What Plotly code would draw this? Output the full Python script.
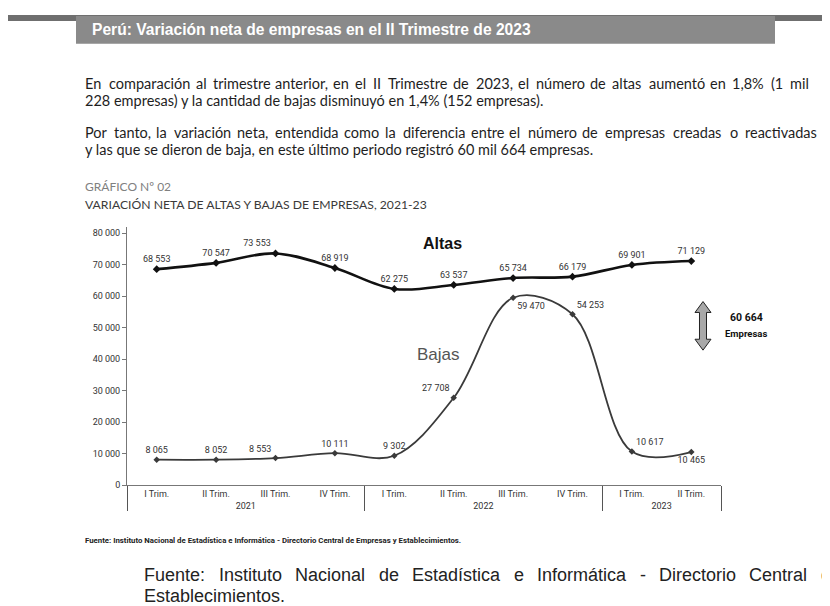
import plotly.graph_objects as go

# ---------------- data ----------------
years = ["2021", "2021", "2021", "2021", "2022", "2022", "2022", "2022", "2023", "2023"]
quarters = ["I Trim.", "II Trim.", "III Trim.", "IV Trim.",
            "I Trim.", "II Trim.", "III Trim.", "IV Trim.",
            "I Trim.", "II Trim."]
altas = [68553, 70547, 73553, 68919, 62275, 63537, 65734, 66179, 69901, 71129]
bajas = [8065, 8052, 8553, 10111, 9302, 27708, 59470, 54253, 10617, 10465]
y_ticks = [0, 10000, 20000, 30000, 40000, 50000, 60000, 70000, 80000]

W, H = 830, 606


def px(x):
    return x / W


def py(y):
    return 1 - y / H


altas_pos = ["top center", "top center", "top left", "top center", "top center",
             "top center", "top center", "top center", "top center", "top center"]
bajas_pos = ["top center", "top center", "top left", "top center", "top center",
             "top left", "bottom right", "top right", "top right", "bottom center"]

NARROW = "Roboto, Liberation Sans, sans-serif"

fig = go.Figure()
fig.add_trace(go.Scatter(
    x=[years, quarters], y=altas, mode="lines+markers+text",
    line=dict(color="#111111", width=2.6, shape="spline", smoothing=1),
    marker=dict(symbol="diamond", size=6, color="#111111"),
    texttemplate="%{y:,d}", textposition=altas_pos,
    textfont=dict(family=NARROW, size=9, color="#333333"),
    cliponaxis=False, showlegend=False, name="Altas"))
fig.add_trace(go.Scatter(
    x=[years, quarters], y=bajas, mode="lines+markers+text",
    line=dict(color="#3a3a3a", width=1.8, shape="spline", smoothing=1),
    marker=dict(symbol="diamond", size=5, color="#3a3a3a"),
    texttemplate="%{y:,d}", textposition=bajas_pos,
    textfont=dict(family=NARROW, size=9, color="#333333"),
    cliponaxis=False, showlegend=False, name="Bajas"))

body_font = "Lato, Liberation Sans, sans-serif"
ann = []


def text(x, y, t, size, color="#1e1e1e", family=body_font, xanchor="left", bold=False):
    if bold:
        t = "<b>" + t + "</b>"
    ann.append(dict(x=px(x), y=py(y), xref="paper", yref="paper", text=t, showarrow=False,
                    xanchor=xanchor, yanchor="middle",
                    font=dict(family=family, size=size, color=color)))


# approximate Arial advance widths (1/1000 em), used to justify lines
ARIAL = {c: 556 for c in "abdeghnopqu0123456789áéóú"}
ARIAL.update({c: 500 for c in "cksvxyzJ"})
ARIAL.update({"f": 278, "t": 278, "i": 222, "j": 222, "l": 222, "r": 333, "m": 833, "w": 722,
              "í": 278, " ": 278, ",": 278, ".": 278, ":": 278, "-": 333, "%": 889,
              "(": 333, ")": 333, "I": 278, "E": 667, "P": 667, "T": 611, "F": 611,
              "N": 722, "D": 722, "C": 722})


def justify(line, x0, x1, y, size, color, family, k):
    words = line.split(" ")
    widths = [sum(ARIAL.get(c, 556) for c in w) * size / 1000 * k for w in words]
    gap = (x1 - x0 - sum(widths)) / (len(words) - 1)
    x = x0
    for w, wd in zip(words, widths):
        text(x, y, w, size, color, family)
        x += wd + gap


BX = 75
BS = 14.5
text(82, 22, "Perú: Variación neta de empresas en el II Trimestre de 2023", 15.6, "#ffffff",
     "Liberation Sans, Arial, sans-serif", bold=True)
justify("En comparación al trimestre anterior, en el II Trimestre de 2023, el número de altas aumentó en 1,8% (1 mil",
        BX, 798, 76, BS, "#1e1e1e", body_font, 0.96)
text(BX, 93, "228 empresas) y la cantidad de bajas disminuyó en 1,4% (152 empresas).", BS)
justify("Por tanto, la variación neta, entendida como la diferencia entre el número de empresas creadas o reactivadas",
        BX, 806, 126, BS, "#1e1e1e", body_font, 0.96)
text(BX, 143, "y las que se dieron de baja, en este último periodo registró 60 mil 664 empresas.", BS)
text(BX, 180, "GRÁFICO Nº 02", 12, "#808080")
text(BX, 198, "VARIACIÓN NETA DE ALTAS Y BAJAS DE EMPRESAS, 2021-23", 12.2, "#3a3a3a")
text(434, 237, "Altas", 16, "#111111", "Liberation Sans, sans-serif", "center", bold=True)
text(430, 349, "Bajas", 17, "#555555", "Liberation Sans, sans-serif", "center")
text(738, 312, "60 664", 10.5, "#111111", NARROW, "center", bold=True)
text(738, 328, "Empresas", 9.5, "#111111", NARROW, "center", bold=True)
text(BX, 537, "Fuente: Instituto Nacional de Estadística e Informática - Directorio Central de Empresas y Establecimientos.",
     7.8, "#222222", NARROW, bold=True)
justify("Fuente: Instituto Nacional de Estadística e Informática - Directorio Central de",
        134, 831, 572, 18, "#222222", "Liberation Sans, Arial, sans-serif", 1.0)
text(134, 593, "Establecimientos.", 18, "#222222", "Liberation Sans, Arial, sans-serif")

# double arrow
cx = 695
pts = [(cx, 296), (cx + 8, 307), (cx + 3.5, 307), (cx + 3.5, 334), (cx + 8, 334), (cx, 345),
       (cx - 8, 334), (cx - 3.5, 334), (cx - 3.5, 307), (cx - 8, 307)]
path = "M " + " L ".join(f"{px(a):.5f},{py(b):.5f}" for a, b in pts) + " Z"

shapes = [
    dict(type="rect", xref="paper", yref="paper", x0=0, x1=1, y0=py(13), y1=py(7),
         fillcolor="#6f6f6f", line=dict(width=0), layer="below"),
    dict(type="rect", xref="paper", yref="paper", x0=px(68), x1=px(767), y0=py(36), y1=py(8),
         fillcolor="#8a8a8a", line=dict(width=0), layer="below"),
    dict(type="path", xref="paper", yref="paper", path=path, fillcolor="#a8a8a8",
         line=dict(color="#222222", width=1)),
]

fig.update_layout(
    width=W, height=H, margin=dict(l=0, r=0, t=0, b=0),
    paper_bgcolor="white", plot_bgcolor="white",
    separators=", ",
    annotations=ann, shapes=shapes,
    xaxis=dict(domain=[px(119), px(713)], range=[-0.5, 9.5], showgrid=False, zeroline=False,
               showline=True, linecolor="#777777", linewidth=1,
               showdividers=True, dividercolor="#555555", dividerwidth=1,
               tickfont=dict(family=NARROW, size=9, color="#333333")),
    yaxis=dict(domain=[py(481), py(481 - 82000 * 0.003175)], range=[0, 82000],
               tickvals=y_ticks, tickformat=",d", showgrid=False, zeroline=False,
               showline=True, linecolor="#777777", linewidth=1, ticks="outside", ticklen=4,
               tickcolor="#777777",
               tickfont=dict(family=NARROW, size=9, color="#333333")),
)

fig.write_html("out.html")
